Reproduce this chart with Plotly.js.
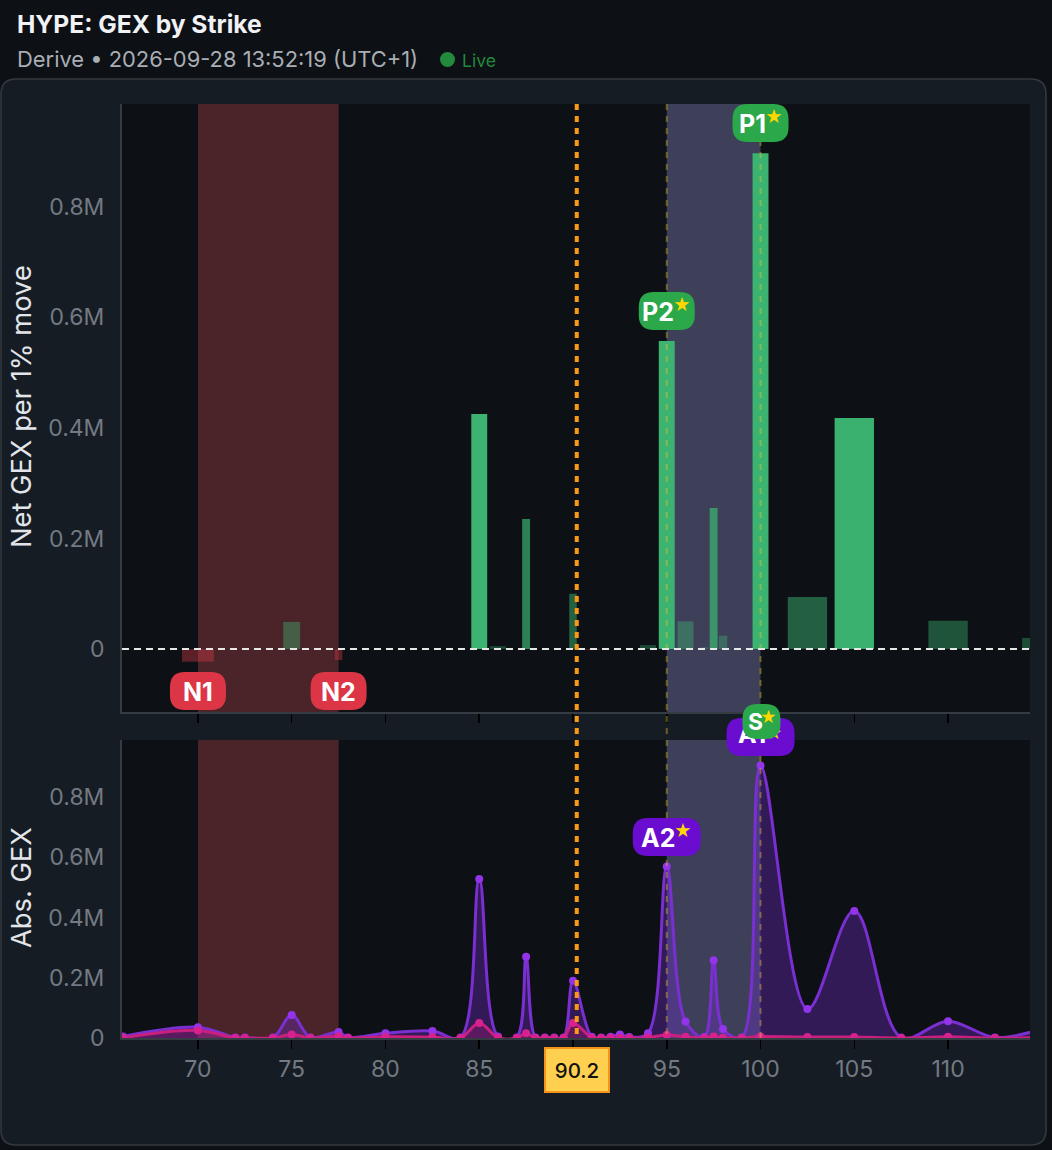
<!DOCTYPE html>
<html><head><meta charset="utf-8">
<script src="https://cdn.plot.ly/plotly-3.0.1.min.js"></script>
<style>html,body{margin:0;padding:0;background:#0d1014;overflow:hidden}</style>
</head><body><div id="chart" style="width:1052px;height:1150px"></div>
<script>
// ---- data ----
const netStrikes = [70,75,77.5,85,86,87.5,90,91,94,95,96,97,97.5,98,100,102.5,105,110,115];
const netGex = [-0.023,0.049,-0.02,0.425,0.005,0.235,0.1,-0.002,0.007,0.557,0.05,0.003,0.255,0.024,0.897,0.094,0.418,0.051,0.02];
const netWidths = [1.7,0.9,0.4,0.85,0.85,0.42,0.4,0.85,0.85,0.85,0.85,0.42,0.42,0.45,0.85,2.1,2.1,2.1,2.1];
const absStrikes = [66,70,72,72.5,74,75,76,77.5,78,80,82.5,84,85,86,87,87.5,88,88.5,89,89.5,90,91,91.5,92,92.5,93,94,95,96,97,97.5,98,99,100,102.5,105,107.5,110,112.5,115];
const absGex = [0.005,0.036,0.002,0.002,0.002,0.076,0.002,0.02,0.002,0.016,0.023,0.002,0.528,0.005,0.002,0.27,0.002,0.002,0.002,0.002,0.19,0.004,0.002,0.004,0.012,0.003,0.016,0.57,0.055,0.003,0.258,0.03,0.002,0.905,0.096,0.422,0.002,0.056,0.002,0.03];
const otherGex = [0.001,0.025,0,0,0,0.012,0,0.006,0,0.004,0.003,0,0.05,0.001,0,0.016,0,0,0,0,0.05,0.001,0,0.001,0.001,0,0.002,0.01,0.004,0,0.005,0.001,0,0.005,0.003,0.003,0,0.004,0,0.001];
const xTicks = [70,75,80,85,90,95,100,105,110];
const xTickText = ['70','75','80','85','','95','100','105','110'];
const yTicks = [0,0.2,0.4,0.6,0.8];
const yTickText = ['0','0.2M','0.4M','0.6M','0.8M'];
const spot = 90.2;
const negBand = [70,77.5];
const posBand = [95,100];

// ---- layout helpers ----
const W=1052,H=1150;
const px=v=>v/W, py=v=>1-v/H;
const FONT='Inter, "Noto Sans", sans-serif';
const topDom=[py(712),py(104)], botDom=[py(1038),py(740)];
const xRange=[65.95,114.37];
const GREEN='#2aa84a',RED='#dc3646',PURPLE='#6a0dd0';

function rr(w,h,r){const a=w/2,b=h/2;
 return `M ${-a+r} ${-b} L ${a-r} ${-b} Q ${a} ${-b} ${a} ${-b+r} L ${a} ${b-r} Q ${a} ${b} ${a-r} ${b} L ${-a+r} ${b} Q ${-a} ${b} ${-a} ${b-r} L ${-a} ${-b+r} Q ${-a} ${-b} ${-a+r} ${-b} Z`;}
function pill(x,yc,w,h,color,layer){return {type:'path',xref:'x',yref:'paper',xsizemode:'pixel',ysizemode:'pixel',xanchor:x,yanchor:py(yc),path:rr(w,h,15),fillcolor:color,line:{width:0},layer:layer||'above'};}
function card(x0,y0,x1,y1,r){const X=px,Y=py;
 return `M ${X(x0+r)} ${Y(y0)} L ${X(x1-r)} ${Y(y0)} Q ${X(x1)} ${Y(y0)} ${X(x1)} ${Y(y0+r)} L ${X(x1)} ${Y(y1-r)} Q ${X(x1)} ${Y(y1)} ${X(x1-r)} ${Y(y1)} L ${X(x0+r)} ${Y(y1)} Q ${X(x0)} ${Y(y1)} ${X(x0)} ${Y(y1-r)} L ${X(x0)} ${Y(y0+r)} Q ${X(x0)} ${Y(y0)} ${X(x0+r)} ${Y(y0)} Z`;}
function band(r,dom,color){return {type:'rect',xref:'x',yref:'paper',x0:r[0],x1:r[1],y0:dom[0],y1:dom[1],fillcolor:color,line:{width:0},layer:'below'};}
function vline(x,y0,y1,color,w){return {type:'line',xref:'x',yref:'paper',x0:x,x1:x,y0:py(y0),y1:py(y1),line:{color:color,width:w,dash:'6px,6px'},layer:'above'};}
function label(x,yc,text,size,color,weight){return {xref:'x',yref:'paper',x:x,y:py(yc),text:text,showarrow:false,xanchor:'center',yanchor:'middle',font:{family:FONT,size:size,color:color,weight:weight||700}};}
function head(x,yc,text,size,color,weight){return {xref:'paper',yref:'paper',x:px(x),y:py(yc),text:text,showarrow:false,xanchor:'left',yanchor:'middle',font:{family:FONT,size:size,color:color,weight:weight||400}};}

const OLIVE='rgba(240,205,40,0.38)';
const shapes=[
 {type:'path',xref:'paper',yref:'paper',path:card(1,79,1046,1145,15),fillcolor:'#161c24',line:{color:'#343a42',width:1.5},layer:'below'},
 {type:'rect',xref:'paper',yref:'paper',x0:px(122),x1:px(1030),y0:topDom[0],y1:topDom[1],fillcolor:'#0d1014',line:{width:0},layer:'below'},
 {type:'rect',xref:'paper',yref:'paper',x0:px(122),x1:px(1030),y0:botDom[0],y1:botDom[1],fillcolor:'#0d1014',line:{width:0},layer:'below'},
 band(negBand,topDom,'#4a2428'),band(negBand,botDom,'#4a2428'),
 band(posBand,topDom,'#3e4059'),band(posBand,botDom,'#3e4059'),
 pill(100,737,68,38,PURPLE,'below'),
 vline(95,104,1038,OLIVE,2),
 vline(100,104,718,OLIVE,2),
 vline(100,756,1038,OLIVE,2),
 {type:'line',xref:'x',yref:'y',x0:xRange[0],x1:xRange[1],y0:0,y1:0,line:{color:'#e6e8e6',width:2,dash:'7px,5px'},layer:'above'},
 {type:'line',xref:'x',yref:'paper',x0:spot,x1:spot,y0:py(104),y1:py(1038),line:{color:'#fb9a12',width:4,dash:'6px,6px'},layer:'above'},
 pill(100,123,56,38,GREEN),pill(95,311,56,38,GREEN),
 pill(70,691,56,38,RED),pill(77.5,691,56,38,RED),
 pill(95,837,68,38,PURPLE),
 pill(100.05,721.5,38,35,GREEN),
 {type:'circle',xref:'paper',yref:'paper',x0:px(440),x1:px(455),y0:py(52),y1:py(67),fillcolor:'#23893c',line:{width:0},layer:'above'}
];
const annotations=[
 head(15,24,'HYPE: GEX by Strike',24.6,'#f0f2f5',700),
 head(15,59,'Derive • 2026-09-28 13:52:19 (UTC+1)',21.9,'#a9aeb4',400),
 head(460,60,'Live',17.5,'#23893c',400),
 label(99.55,124,'P1',25,'#ffffff'),label(100.72,117,'★',17,'#ffd700'),
 label(94.55,312,'P2',25,'#ffffff'),label(95.8,305,'★',17,'#ffd700'),
 label(70,692,'N1',25,'#ffffff'),label(77.5,692,'N2',25,'#ffffff'),
 label(94.55,838,'A2',25,'#ffffff'),label(95.87,831,'★',17,'#ffd700'),
 label(99.75,722,'S',23,'#ffffff'),label(100.42,717,'★',16,'#ffd700'),
 {xref:'x',yref:'paper',x:spot,y:py(1070),text:'90.2',showarrow:false,xanchor:'center',yanchor:'middle',width:62,height:42,bgcolor:'#ffd04f',bordercolor:'#f7931a',borderwidth:2,borderpad:0,font:{family:FONT,size:20.5,color:'#111111',weight:500}},
 {xref:'paper',yref:'paper',x:px(21),y:py(407),text:'Net GEX per 1% move',textangle:-90,showarrow:false,xanchor:'center',yanchor:'middle',font:{family:FONT,size:27.3,color:'#e2e5e9'}},
 {xref:'paper',yref:'paper',x:px(21),y:py(888),text:'Abs. GEX',textangle:-90,showarrow:false,xanchor:'center',yanchor:'middle',font:{family:FONT,size:27.3,color:'#e2e5e9'}}
];

const barOpacity=netGex.map(v=>Math.min(1,0.34+1.55*Math.abs(v)));
const traces=[
 {type:'bar',x:netStrikes,y:netGex,width:netWidths,xaxis:'x',yaxis:'y',
  marker:{color:netGex.map(v=>v>=0?'#3cb371':'#e03a4a'),opacity:barOpacity,line:{width:0}}},
 {type:'scatter',mode:'lines+markers',x:absStrikes,y:absGex,xaxis:'x2',yaxis:'y2',
  line:{color:'#7a2fd0',width:3,shape:'spline',smoothing:1},marker:{color:'#9333ea',size:8},fill:'tozeroy',fillcolor:'rgba(115,45,205,0.36)'},
 {type:'scatter',mode:'lines+markers',x:absStrikes,y:otherGex,xaxis:'x2',yaxis:'y2',
  line:{color:'#c9207f',width:3,shape:'spline',smoothing:1},marker:{color:'#d6218f',size:8},fill:'tozeroy',fillcolor:'rgba(200,30,120,0.28)'},
 {type:'scatter',mode:'text',x:[99.55],y:[0.96],text:['A1'],textposition:'top center',cliponaxis:false,xaxis:'x2',yaxis:'y2',
  textfont:{family:FONT,size:25,color:'#ffffff',weight:700}},
 {type:'scatter',mode:'text',x:[100.72],y:[0.98],text:['★'],textposition:'top center',cliponaxis:false,xaxis:'x2',yaxis:'y2',
  textfont:{family:FONT,size:16,color:'#ffd700'}}
];
const axisFont={family:FONT,size:23,color:'#737a82'};
const xBase={range:xRange,domain:[px(122),px(1030)],tickmode:'array',tickvals:xTicks,ticktext:xTickText,ticks:'outside',ticklen:9,tickwidth:1.5,tickcolor:'#000000',
 showline:true,linecolor:'#353b42',linewidth:2,showgrid:false,zeroline:false,tickfont:axisFont,fixedrange:true};
const yBase={tickmode:'array',tickvals:yTicks,ticktext:yTickText,ticks:'outside',ticklen:11,tickcolor:'rgba(0,0,0,0)',showline:true,linecolor:'#353b42',linewidth:2,showgrid:false,zeroline:false,tickfont:axisFont,fixedrange:true};
const layout={width:W,height:H,margin:{l:0,r:0,t:0,b:0},paper_bgcolor:'#0d1014',plot_bgcolor:'rgba(0,0,0,0)',showlegend:false,hovermode:false,barmode:'overlay',
 xaxis:Object.assign({},xBase,{anchor:'y',showticklabels:false}),
 xaxis2:Object.assign({},xBase,{anchor:'y2',matches:'x'}),
 yaxis:Object.assign({},yBase,{domain:topDom,range:[-0.114,0.986],anchor:'x'}),
 yaxis2:Object.assign({},yBase,{domain:botDom,range:[0,0.99],anchor:'x2'}),
 shapes:shapes,annotations:annotations};
Plotly.newPlot('chart',traces,layout,{displayModeBar:false,staticPlot:true});
</script></body></html>
